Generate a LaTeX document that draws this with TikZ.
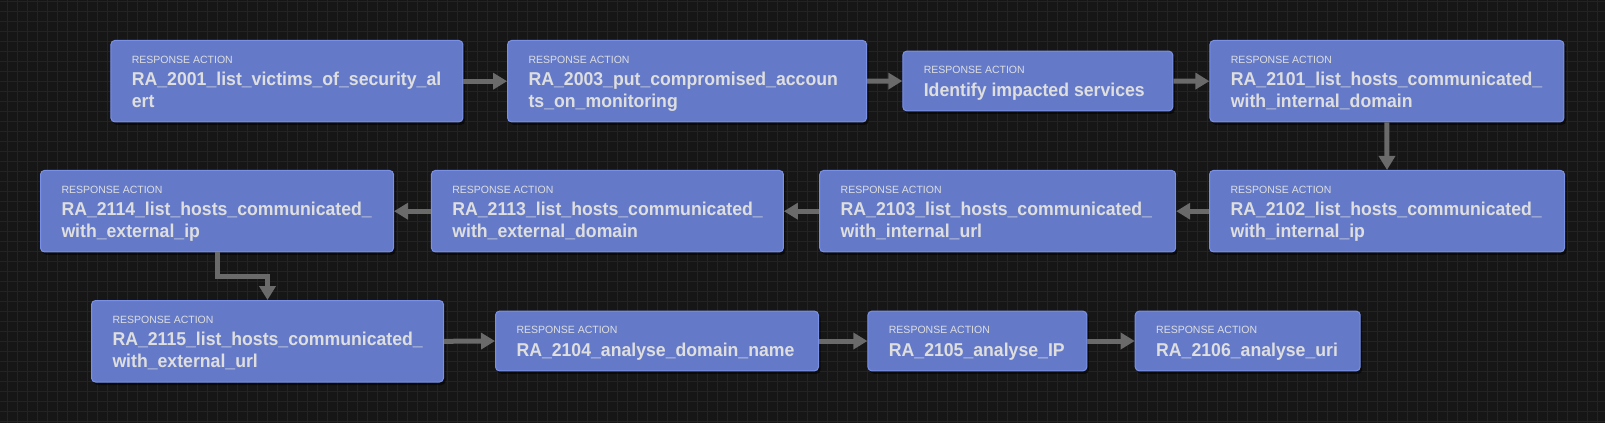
\documentclass[tikz,border=0pt]{standalone}
\usepackage{fontspec}
\setmainfont{Liberation Sans}
\newfontfamily\titlefamily[FakeStretch=0.95]{Liberation Sans}
\usepackage{tikz}
\usetikzlibrary{arrows.meta,shadows,positioning}
\definecolor{canvas}{HTML}{161616}
\definecolor{gridgray}{HTML}{232323}
\definecolor{rafill}{HTML}{647AC9}
\definecolor{raborder}{HTML}{7A90E6}
\definecolor{lighttext}{HTML}{DEDEDE}
\definecolor{flowgray}{HTML}{6A6A6A}
\hyphenpenalty=10000
\newcommand{\tagfont}{\normalfont\fontsize{10.5}{12}\selectfont}
\newcommand{\titlefont}{\titlefamily\bfseries\fontsize{18.6}{21.7}\selectfont}
\newcommand{\ratext}[1]{\noindent\rule{0pt}{22.6pt}{\tagfont RESPONSE ACTION}\\[1.1pt]#1\rule[-14.4pt]{0pt}{14.4pt}}
\tikzset{rabox/.style={draw=raborder, fill=rafill, line width=1pt, rounded corners=4pt,
    inner xsep=21pt, inner ysep=0pt, text=lighttext, align=flush left, text width=#1pt,
    font=\titlefont, drop shadow={shadow xshift=2pt,shadow yshift=-3pt,opacity=.5,fill=black}}}

\begin{document}
\begin{tikzpicture}[x=1pt,y=-1pt]
\tikzstyle{flow}=[draw=flowgray, line width=5pt, line join=miter, -{Triangle[length=14pt,width=16pt]}]

\fill[canvas] (0,0) rectangle (1605,423);
\useasboundingbox (0,0) rectangle (1605,423);

% grid
\foreach \gx in {7.3,17.3,...,1605}
    \draw[gridgray, line width=1pt] (\gx,0) -- (\gx,423);
\foreach \gy in {1.7,11.7,...,423}
    \draw[gridgray, line width=1pt] (0,\gy) -- (1605,\gy);

% first row
\node[rabox=310] (ra2001) at (286.9,81.2) {\ratext{RA\_2001\_list\_victims\_of\_security\_al\\ert}};
\node[rabox=317] (ra2003) at (687.1,81.2) {\ratext{RA\_2003\_put\_compromised\_accoun\\ts\_on\_monitoring}};
\node[rabox=228] (impact) at (1037.8,81) {\ratext{Identify impacted services}};
\node[rabox=312] (ra2101) at (1386.9,81.2) {\ratext{RA\_2101\_list\_hosts\_communicated\_\\with\_internal\_domain}};

% second row
\node[rabox=313] (ra2102) at (1387,211.2) {\ratext{RA\_2102\_list\_hosts\_communicated\_\\with\_internal\_ip}};
\node[rabox=314] (ra2103) at (997.7,211.2) {\ratext{RA\_2103\_list\_hosts\_communicated\_\\with\_internal\_url}};
\node[rabox=310] (ra2113) at (607.4,211.2) {\ratext{RA\_2113\_list\_hosts\_communicated\_\\with\_external\_domain}};
\node[rabox=311] (ra2114) at (217,211.2) {\ratext{RA\_2114\_list\_hosts\_communicated\_\\with\_external\_ip}};

% third row
\node[rabox=310] (ra2115) at (267.5,341.3) {\ratext{RA\_2115\_list\_hosts\_communicated\_\\with\_external\_url}};
\node[rabox=281] (ra2104) at (657,341) {\ratext{RA\_2104\_analyse\_domain\_name}};
\node[rabox=177] (ra2105) at (977.4,341) {\ratext{RA\_2105\_analyse\_IP}};
\node[rabox=183] (ra2106) at (1247.7,341) {\ratext{RA\_2106\_analyse\_uri}};

\draw[flow] (ra2001.east) -- (ra2003.west);
\draw[flow] (ra2003.east) -- (impact.west);
\draw[flow] (impact.east) -- (ra2101.west);
\draw[flow] (ra2101.south) -- (ra2102.north);
\draw[flow] (ra2102.west) -- (ra2103.east);
\draw[flow] (ra2103.west) -- (ra2113.east);
\draw[flow] (ra2113.west) -- (ra2114.east);
\draw[flow] (ra2114.south) -- ++(0,24) -| (ra2115.north);
\draw[flow] (ra2115.east) -- (ra2104.west);
\draw[flow] (ra2104.east) -- (ra2105.west);
\draw[flow] (ra2105.east) -- (ra2106.west);
\end{tikzpicture}
\end{document}
